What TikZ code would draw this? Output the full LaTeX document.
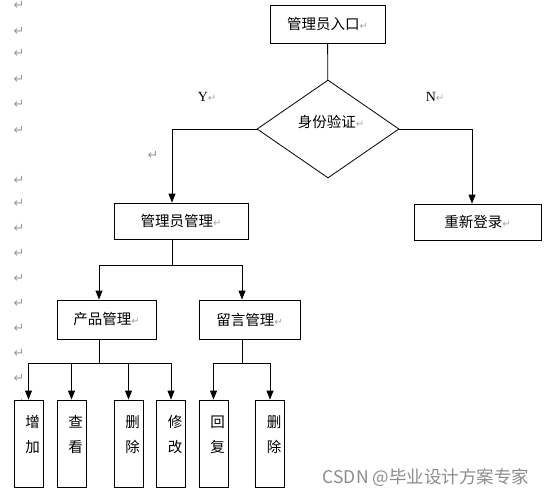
\documentclass[tikz,border=0pt]{standalone}
\usepackage{fontspec}
\setmainfont{Liberation Serif}
\newfontfamily\cjk{Noto Sans CJK SC}
\newfontfamily\symfont{DejaVu Sans}
\usetikzlibrary{arrows.meta}
\usetikzlibrary{shapes.geometric}
\newcommand{\pmark}{{\symfont\fontsize{10}{10}\selectfont\color{black!35}↵}}
\tikzset{box/.style = {draw, line width = 0.8pt, fill = white, inner sep = 0, font = \cjk\fontsize{14.5}{15}\selectfont}}
\tikzset{tallbox/.style = {box, minimum width = 29pt, minimum height = 87pt}}
\tikzset{vtext/.style = {inner sep = 0, align = center, font = \cjk\fontsize{14.5}{25}\selectfont}}
\tikzset{arr/.style = {line width = 0.8pt, -{Triangle[width = 7pt, length = 9pt]}}}
\tikzset{pm/.style = {inner sep = 0, text = black!40, font = \symfont\fontsize{13}{13}\selectfont}}

\begin{document}
\begin{tikzpicture}[x = 1pt, y = -1pt]
    \useasboundingbox (0, 0) rectangle (556, 497);
    \foreach \y in {5, 31, 53, 79, 104, 130, 180, 203, 228, 253, 278, 303, 328, 353, 378, 403}
      \node [pm] (m\y) at (19, \y) {↵};
    \node [pm] (mid) at (153, 155) {↵};
    \node (yes) at (207, 97) {\fontsize{14}{14}\selectfont Y\pmark};
    \node (no) at (435, 97) {\fontsize{14}{14}\selectfont N\pmark};
    \node [box, minimum width = 115pt, minimum height = 38pt] (entry) at (327.5, 24) {管理员入口\pmark};
    \node [box, diamond, minimum width = 142pt, minimum height = 98pt] (check) at (328, 129) {};
    \node [inner sep = 0, font = \cjk\fontsize{14.5}{15}\selectfont] (checktext) at (331, 122) {身份验证\pmark};
    \node [box, minimum width = 134pt, minimum height = 36pt] (admin) at (181, 221) {管理员管理\pmark};
    \node [box, minimum width = 127pt, minimum height = 36pt] (relogin) at (477.5, 222) {重新登录\pmark};
    \node [box, minimum width = 99pt, minimum height = 39pt] (product) at (106.5, 319.5) {产品管理\pmark};
    \node [box, minimum width = 101pt, minimum height = 39pt] (message) at (249.5, 319.5) {留言管理\pmark};
    \foreach \n/\x/\a/\b in {add/28.5/增/加, view/71.5/查/看, del/128.5/删/除, edit/171/修/改, reply/213.5/回/复, remove/270/删/除} {
      \node [tallbox] (\n) at (\x, 443.5) {};
      \node [vtext] (\n text) at ([xshift = 4pt, yshift = 9pt]\n.center) {\a\\\b};
    }
    \coordinate (j1) at (172, 265);
    \coordinate (j2) at (99, 363);
    \coordinate (j3) at (242, 363);
    \draw [line width = 0.8pt] (entry) -- (check);
    \draw [arr] (check.west) -| ([xshift = -9pt]admin.north);
    \draw [arr] (check.east) -| ([xshift = -5.5pt]relogin.north);
    \draw [line width = 0.8pt] ([xshift = -9pt]admin.south) -- (j1);
    \draw [arr] (j1) -| ([xshift = -7.5pt]product.north);
    \draw [arr] (j1) -| ([xshift = -7.5pt]message.north);
    \draw [line width = 0.8pt] ([xshift = -7.5pt]product.south) -- (j2);
    \draw [line width = 0.8pt] ([xshift = -7.5pt]message.south) -- (j3);
    \foreach \n in {add, view, del, edit}
      \draw [arr] (j2) -| (\n);
    \foreach \n in {reply, remove}
      \draw [arr] (j3) -| (\n);
    \node [text = black!45, font = \cjk\fontsize{17.5}{17.5}\selectfont] (mark) at (426, 478) {CSDN @毕业设计方案专家};
  \end{tikzpicture}
\end{document}
